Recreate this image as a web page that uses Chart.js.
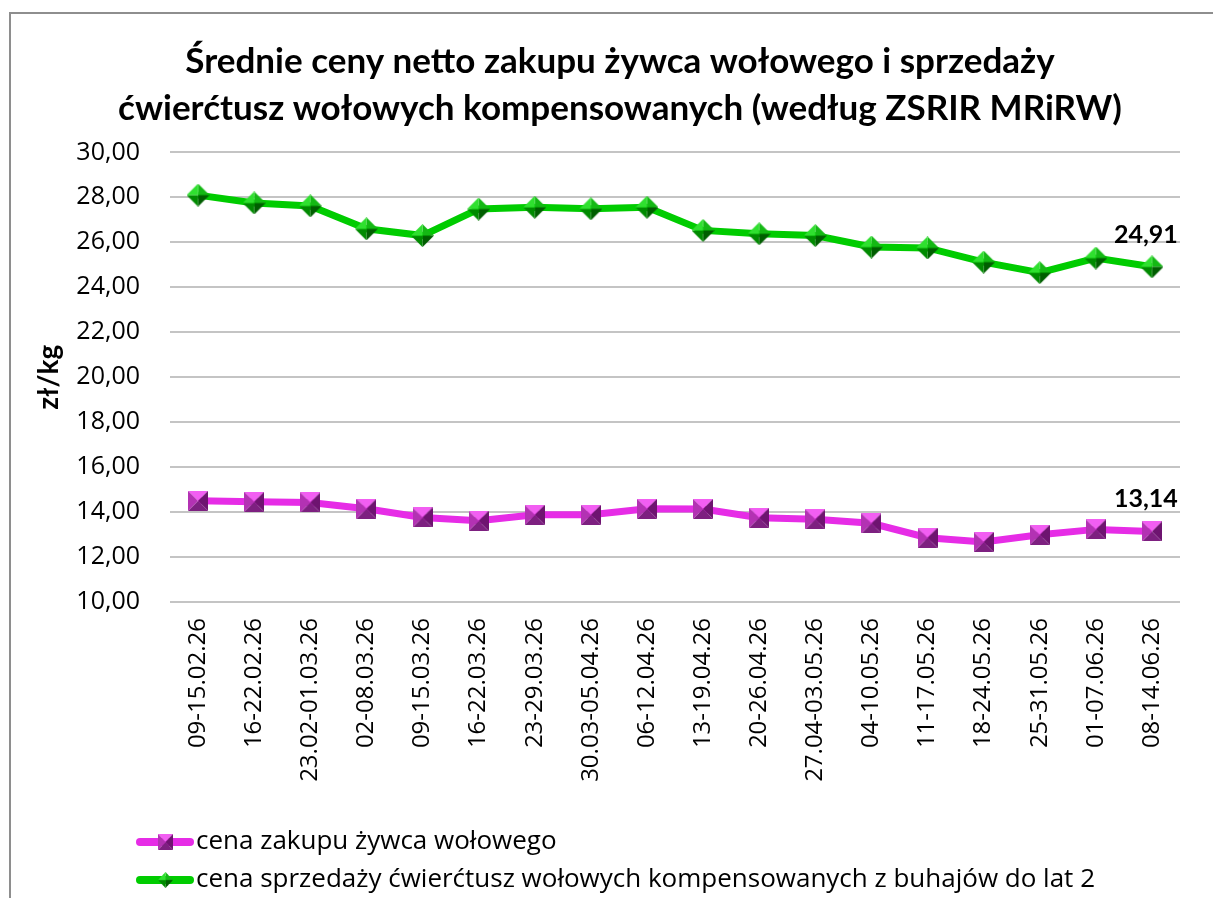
<!DOCTYPE html>
<html lang="pl">
<head>
<meta charset="utf-8">
<script src="https://cdn.jsdelivr.net/npm/chart.js@4/dist/chart.umd.min.js"></script>
<style>
    html, body { margin: 0; padding: 0; background: #fff; overflow: hidden; }
    .frame {
        position: absolute; left: 9px; top: 12px;
        width: 1240px; height: 920px;
        border: 2px solid #8e8e8e;
    }
    .wrap { position: absolute; left: 0; top: 0; width: 1213px; height: 898px; }
</style>
</head>
<body>
<div class="frame"></div>
<div class="wrap"><canvas id="priceChart"></canvas></div>

<script>
// ===============================
// DATA
// ===============================
const weeks = [
    "09-15.02.26", "16-22.02.26", "23.02-01.03.26", "02-08.03.26", "09-15.03.26",
    "16-22.03.26", "23-29.03.26", "30.03-05.04.26", "06-12.04.26", "13-19.04.26",
    "20-26.04.26", "27.04-03.05.26", "04-10.05.26", "11-17.05.26", "18-24.05.26",
    "25-31.05.26", "01-07.06.26", "08-14.06.26"
];

const livePrice = [14.50, 14.46, 14.43, 14.15, 13.76, 13.61, 13.88, 13.88, 14.15, 14.14,
                   13.75, 13.68, 13.50, 12.86, 12.67, 12.99, 13.23, 13.14];

const quarterPrice = [28.10, 27.75, 27.62, 26.60, 26.30, 27.48, 27.56, 27.49, 27.56, 26.53,
                      26.38, 26.30, 25.79, 25.75, 25.12, 24.65, 25.30, 24.91];

const seriesNames = [
    "cena zakupu żywca wołowego",
    "cena sprzedaży ćwierćtusz wołowych kompensowanych z buhajów do lat 2"
];

const chartTitle = [
    "Średnie ceny netto zakupu żywca wołowego i sprzedaży",
    "ćwierćtusz wołowych kompensowanych (według ZSRIR MRiRW)"
];

const yMin = 10, yMax = 30, yStep = 2;

// ===============================
// MARKERS (pyramid look)
// ===============================
function makePyramid(size, faces, diamond) {
    const c = document.createElement("canvas");
    c.width = size; c.height = size;
    const ctx = c.getContext("2d");
    const m = size / 2;
    let corners;
    if (diamond) {
        corners = [[m, 0], [size, m], [m, size], [0, m]];
    } else {
        corners = [[0, 0], [size, 0], [size, size], [0, size]];
    }
    // one face per edge, going clockwise from the top
    for (let i = 0; i < 4; i++) {
        const a = corners[i], b = corners[(i + 1) % 4];
        ctx.beginPath();
        ctx.moveTo(m, m);
        ctx.lineTo(a[0], a[1]);
        ctx.lineTo(b[0], b[1]);
        ctx.closePath();
        ctx.fillStyle = faces[i];
        ctx.fill();
    }
    return c;
}

const squareMarker = makePyramid(20, ["#f25ef2", "#6e1470", "#7d2080", "#b332b3"], false);
const diamondMarker = makePyramid(23, ["#14b814", "#005e00", "#008a00", "#2fe02f"], true);

// ===============================
// PLUGIN: legend + last labels
// ===============================
const extrasPlugin = {
    id: "extras",
    afterDatasetsDraw(chart) {
        const ctx = chart.ctx;
        ctx.save();
        ctx.font = "bold 25px Lato";
        ctx.fillStyle = "#000";
        ctx.textAlign = "center";
        ctx.textBaseline = "middle";
        chart.data.datasets.forEach((ds, i) => {
            const meta = chart.getDatasetMeta(i);
            const last = meta.data[meta.data.length - 1];
            const v = ds.data[ds.data.length - 1];
            ctx.fillText(v.toFixed(2).replace(".", ","), last.x - 6, last.y - 32);
        });
        ctx.restore();
    },
    afterDraw(chart) {
        const ctx = chart.ctx;
        const rows = [842, 880];
        ctx.save();
        chart.data.datasets.forEach((ds, i) => {
            const y = rows[i];
            ctx.strokeStyle = ds.borderColor;
            ctx.lineWidth = 8;
            ctx.lineCap = "round";
            ctx.beginPath();
            ctx.moveTo(140, y);
            ctx.lineTo(190, y);
            ctx.stroke();
            ctx.drawImage(ds.pointStyle, 158, y - 8, 15, 16);
            ctx.font = "26px 'Open Sans'";
            ctx.fillStyle = "#000";
            ctx.textAlign = "left";
            ctx.textBaseline = "middle";
            ctx.fillText(ds.label, 196, y);
        });
        ctx.restore();
    }
};

// ===============================
// CHART
// ===============================
new Chart(document.getElementById("priceChart"), {
    type: "line",
    data: {
        labels: weeks,
        datasets: [
            {
                label: seriesNames[0],
                data: livePrice,
                borderColor: "#e62ce6",
                borderWidth: 7,
                pointStyle: squareMarker,
                pointRadius: 10,
                tension: 0
            },
            {
                label: seriesNames[1],
                data: quarterPrice,
                borderColor: "#00cc00",
                borderWidth: 7,
                pointStyle: diamondMarker,
                pointRadius: 11,
                tension: 0
            }
        ]
    },
    options: {
        responsive: true,
        maintainAspectRatio: false,
        animation: false,
        layout: {
            padding: { left: 60, right: 33, top: 0, bottom: 96 }
        },
        plugins: {
            legend: { display: false },
            tooltip: { enabled: false },
            title: {
                display: true,
                text: chartTitle,
                color: "#000",
                font: { family: "Lato", size: 35, weight: "bold", lineHeight: 1.32 },
                padding: { top: 39, bottom: 21 }
            }
        },
        scales: {
            x: {
                offset: true,
                grid: { display: false },
                border: { display: false },
                ticks: {
                    color: "#000",
                    font: { family: "Open Sans", size: 24 },
                    minRotation: 90,
                    maxRotation: 90,
                    autoSkip: false,
                    padding: 8
                },
                afterFit(scale) { scale.height = 200; }
            },
            y: {
                min: yMin,
                max: yMax,
                grid: { color: "#c4c4c4", lineWidth: 2, drawTicks: false },
                border: { display: false },
                ticks: {
                    stepSize: yStep,
                    color: "#000",
                    padding: 30,
                    font: { family: "Open Sans", size: 25 },
                    callback: v => v.toFixed(2).replace(".", ",")
                },
                title: {
                    display: true,
                    text: "zł/kg",
                    color: "#000",
                    font: { family: "Lato", size: 28, weight: "bold" },
                    padding: { top: -28, bottom: 0 }
                },
                afterFit(scale) { scale.width = 110; }
            }
        }
    },
    plugins: [extrasPlugin]
});
</script>
</body>
</html>
